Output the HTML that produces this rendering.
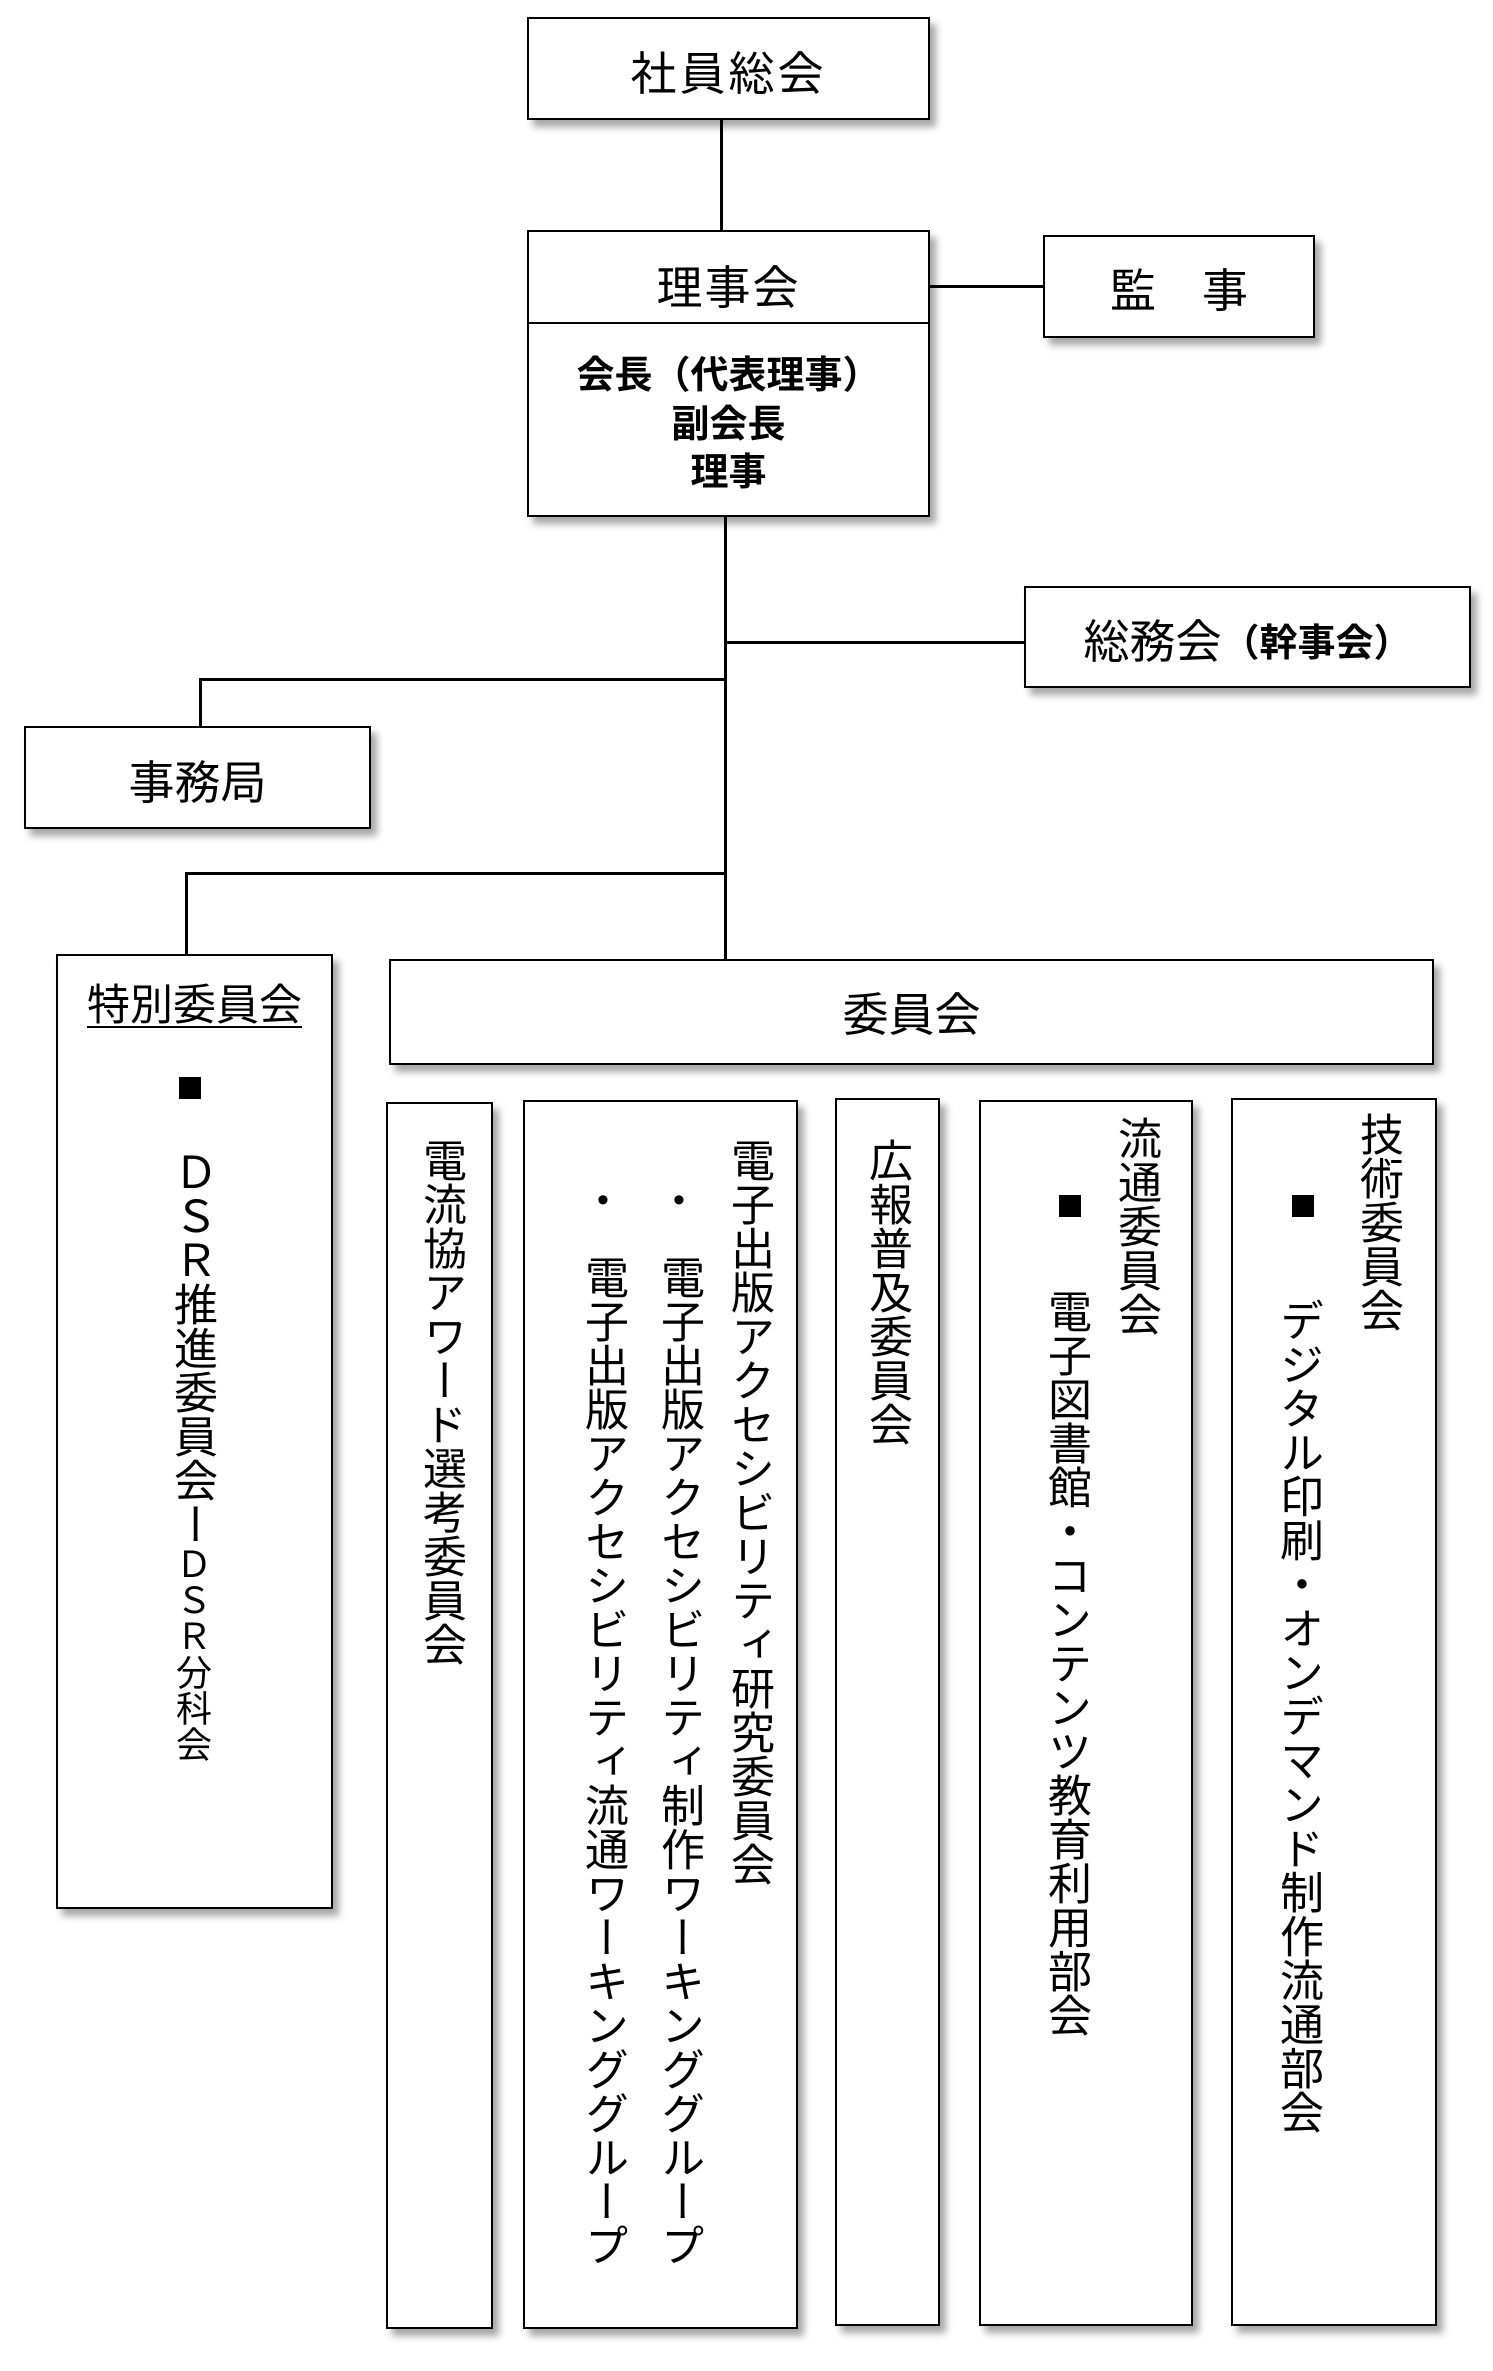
<!DOCTYPE html>
<html><head><meta charset="utf-8"><style>
body{margin:0;width:1493px;height:2371px;background:#fff;position:relative;overflow:hidden;font-family:"Liberation Sans","Noto Sans CJK JP",sans-serif;color:#000}
.b{position:absolute;box-sizing:border-box;border:2px solid #000;background:#fff;box-shadow:6px 7px 7px rgba(0,0,0,.35)}
.l{position:absolute;background:#000}
.t{position:absolute;display:flex;align-items:center;justify-content:center;height:60px;white-space:nowrap}
.v{position:absolute;writing-mode:vertical-rl;font-size:44px;line-height:44px;width:44px;white-space:nowrap}
.sq{position:absolute;width:22px;height:22px;background:#000}
</style></head><body>
<div class="l" style="left:720px;top:118px;width:3px;height:114px"></div>
<div class="l" style="left:928px;top:285px;width:117px;height:3px"></div>
<div class="l" style="left:724px;top:515px;width:3px;height:446px"></div>
<div class="l" style="left:724px;top:641px;width:302px;height:3px"></div>
<div class="l" style="left:199px;top:678px;width:527px;height:3px"></div>
<div class="l" style="left:199px;top:678px;width:3px;height:50px"></div>
<div class="l" style="left:185px;top:872px;width:541px;height:3px"></div>
<div class="l" style="left:185px;top:872px;width:3px;height:84px"></div>

<div class="b" style="left:527px;top:17px;width:403px;height:103px"></div>
<div class="t" style="left:527px;width:403px;top:41px;font-size:46px;letter-spacing:3px">社員総会</div>

<div class="b" style="left:527px;top:230px;width:403px;height:287px"></div>
<div class="l" style="left:527px;top:322px;width:403px;height:2px"></div>
<div class="t" style="left:527px;width:403px;top:255px;font-size:46px;letter-spacing:2px">理事会</div>
<div class="t" style="left:527px;width:403px;top:341px;font-size:38px;font-weight:bold">会長（代表理事）</div>
<div class="t" style="left:527px;width:403px;top:390px;font-size:38px;font-weight:bold">副会長</div>
<div class="t" style="left:527px;width:403px;top:438px;font-size:38px;font-weight:bold">理事</div>

<div class="b" style="left:1043px;top:235px;width:272px;height:103px"></div>
<div class="t" style="left:1043px;width:272px;top:258px;font-size:46px">監　事</div>

<div class="b" style="left:1024px;top:586px;width:447px;height:102px"></div>
<div class="t" style="left:1024px;width:447px;top:609px;font-size:46px">総務会<span style="font-size:38px;font-weight:bold">（幹事会）</span></div>

<div class="b" style="left:24px;top:726px;width:347px;height:103px"></div>
<div class="t" style="left:24px;width:347px;top:750px;font-size:46px">事務局</div>

<div class="b" style="left:56px;top:954px;width:277px;height:955px"></div>
<div class="t" style="left:56px;width:277px;top:972px;font-size:43px;text-decoration:underline;text-underline-offset:6px;text-decoration-thickness:2px">特別委員会</div>
<div class="sq" style="left:179px;top:1077px"></div>
<div class="v" style="left:169px;top:1150px">ＤＳＲ推進委員会ー<span style="font-size:36px;line-height:36px">ＤＳＲ分科会</span></div>

<div class="b" style="left:389px;top:959px;width:1045px;height:106px"></div>
<div class="t" style="left:389px;width:1045px;top:982px;font-size:46px">委員会</div>

<div class="b" style="left:386px;top:1102px;width:107px;height:1227px"></div>
<div class="v" style="left:418px;top:1138px">電流協アワード選考委員会</div>

<div class="b" style="left:523px;top:1100px;width:275px;height:1229px"></div>
<div class="v" style="left:726px;top:1138px">電子出版アクセシビリティ研究委員会</div>
<div class="t" style="left:659px;width:40px;top:1170px;font-size:34px">•</div>
<div class="t" style="left:583px;width:40px;top:1170px;font-size:34px">•</div>
<div class="v" style="left:656px;top:1255px">電子出版アクセシビリティ制作ワーキンググループ</div>
<div class="v" style="left:580px;top:1255px">電子出版アクセシビリティ流通ワーキンググループ</div>

<div class="b" style="left:835px;top:1098px;width:105px;height:1228px"></div>
<div class="v" style="left:864px;top:1138px">広報普及委員会</div>

<div class="b" style="left:979px;top:1100px;width:214px;height:1226px"></div>
<div class="v" style="left:1113px;top:1116px">流通委員会</div>
<div class="sq" style="left:1059px;top:1195px"></div>
<div class="v" style="left:1043px;top:1289px">電子図書館・コンテンツ教育利用部会</div>

<div class="b" style="left:1231px;top:1098px;width:206px;height:1228px"></div>
<div class="v" style="left:1355px;top:1112px">技術委員会</div>
<div class="sq" style="left:1292px;top:1195px"></div>
<div class="v" style="left:1275px;top:1298px">デジタル印刷・オンデマンド制作流通部会</div>
</body></html>
